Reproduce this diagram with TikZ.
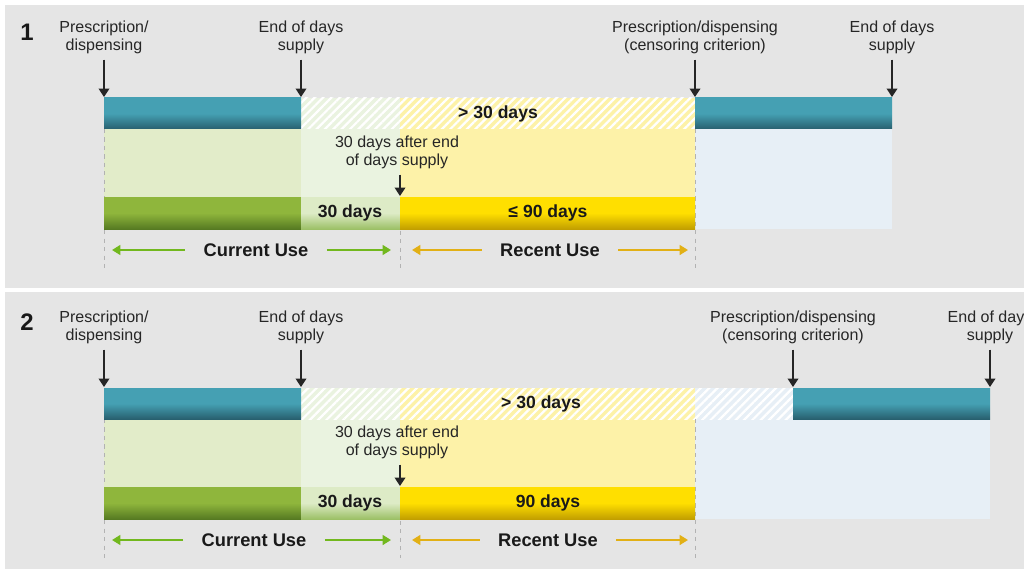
\documentclass[tikz,border=0pt]{standalone}
\usepackage{fontspec}
\setmainfont{Liberation Sans}
\usepackage{xcolor}
\usepackage{tikz}
\usetikzlibrary{arrows.meta,patterns.meta}

\definecolor{panelgray}{HTML}{E5E5E5}
\definecolor{tealL}{HTML}{45A0B3}
\definecolor{tealD}{HTML}{28606F}
\definecolor{grnL}{HTML}{8FB63C}
\definecolor{grnD}{HTML}{567A22}
\definecolor{grnpale}{HTML}{E2ECC9}
\definecolor{grnwash}{HTML}{EAF3E0}
\definecolor{grnT}{HTML}{DDEBC6}
\definecolor{grnB}{HTML}{9CC066}
\definecolor{yelL}{HTML}{FFDF00}
\definecolor{yelD}{HTML}{C29F00}
\definecolor{yelpale}{HTML}{FDF2A8}
\definecolor{bluepale}{HTML}{E7EFF6}
\definecolor{usegreen}{HTML}{72B81E}
\definecolor{useamber}{HTML}{E2B015}

\begin{document}
\begin{tikzpicture}[x=0.025cm, y=-0.025cm,
  lbl/.style={font=\fontsize{11.4}{13}\selectfont, text=black!85, align=center, inner sep=2pt},
  days/.style={font=\bfseries\fontsize{12.5}{15}\selectfont, text=black!90},
  usetxt/.style={font=\bfseries\fontsize{13}{15}\selectfont, text=black!90, inner xsep=13pt},
  num/.style={font=\bfseries\fontsize{17}{20}\selectfont, text=black!90},
  arr/.style={-{Triangle[width=7.5pt,length=6pt]}, line width=1.3pt, black!85, shorten <=2pt},
  garr/.style={-{Triangle[width=7pt,length=6pt]}, line width=1.6pt, usegreen},
  aarr/.style={-{Triangle[width=7pt,length=6pt]}, line width=1.6pt, useamber},
  vline/.style={black!30, dashed, line width=0.6pt},
  hatch/.style={pattern={Lines[angle=45,distance=4.2pt,line width=1.6pt]}, pattern color=white},
  tealbar/.style={top color=tealL, bottom color=tealD, middle color=tealL},
  grnbar/.style={top color=grnL, bottom color=grnD, middle color=grnL},
  lgrnbar/.style={top color=grnT, bottom color=grnB, middle color=grnT},
  yelbar/.style={top color=yelL, bottom color=yelD, middle color=yelL}]
\useasboundingbox (0,0) rectangle (1024,571);
\fill[white] (0,0) rectangle (1024,571);
\fill[panelgray] (5,5) rectangle (1024,288);
\fill[panelgray] (5,292) rectangle (1024,569);

% case 1: new prescription within the recent-use window
\begin{scope}
  \fill[grnpale] (104,129) rectangle (301,197);
  \fill[grnwash] (301,98) rectangle (400,197);
  \fill[yelpale] (400,98) rectangle (695,197);
  \fill[bluepale] (695,129) rectangle (892,229);
  \fill[hatch] (301,98) rectangle (695,129);
  \draw[vline] (104,129) -- (104,268);
  \draw[vline] (400,197) -- (400,268);
  \draw[vline] (695,129) -- (695,268);
  \shade[tealbar] (104,98) rectangle (301,129);
  \shade[tealbar] (695,98) rectangle (892,129);
  \shade[grnbar] (104,197) rectangle (301,229);
  \shade[lgrnbar] (301,197) rectangle (400,229);
  \shade[yelbar] (400,197) rectangle (695,229);
  \node[num] (n1) at (27,32) {1};
  \node[lbl] (rx) at (104,37) {Prescription/\\dispensing};
  \node[lbl] (eds) at (301,37) {End of days\\supply};
  \node[lbl] (rxc) at (695,37) {Prescription/dispensing\\(censoring criterion)};
  \node[lbl] (edsc) at (892,37) {End of days\\supply};
  \coordinate (rxt) at (104,97);
  \coordinate (edst) at (301,97);
  \coordinate (rxct) at (695,97);
  \coordinate (edsct) at (892,97);
  \draw[arr] (rx) -- (rxt);
  \draw[arr] (eds) -- (edst);
  \draw[arr] (rxc) -- (rxct);
  \draw[arr] (edsc) -- (edsct);
  \node[days] (gt) at (498,114) {> 30 days};
  \node[lbl] (aft) at (397,152) {30 days after end\\of days supply};
  \coordinate (aftt) at (400,196);
  \draw[arr] (aft.south -| aftt) -- (aftt);
  \node[days] (d30) at (350,213) {30 days};
  \node[days] (d90) at (548,213) {≤ 90 days};
  \node[usetxt] (cur) at (256,250) {Current Use};
  \coordinate (curl) at (112,250);
  \coordinate (curr) at (391,250);
  \draw[garr] (cur) -- (curl);
  \draw[garr] (cur) -- (curr);
  \node[usetxt] (rec) at (550,250) {Recent Use};
  \coordinate (recl) at (412,250);
  \coordinate (recr) at (688,250);
  \draw[aarr] (rec) -- (recl);
  \draw[aarr] (rec) -- (recr);
\end{scope}

% case 2: new prescription after the recent-use window
\begin{scope}[shift={(0,290)}]
  \fill[grnpale] (104,129) rectangle (301,197);
  \fill[grnwash] (301,98) rectangle (400,197);
  \fill[yelpale] (400,98) rectangle (695,197);
  \fill[bluepale] (695,98) rectangle (990,229);
  \fill[hatch] (301,98) rectangle (793,129);
  \draw[vline] (104,129) -- (104,268);
  \draw[vline] (400,197) -- (400,268);
  \draw[vline] (695,129) -- (695,268);
  \shade[tealbar] (104,98) rectangle (301,129);
  \shade[tealbar] (793,98) rectangle (990,129);
  \shade[grnbar] (104,197) rectangle (301,229);
  \shade[lgrnbar] (301,197) rectangle (400,229);
  \shade[yelbar] (400,197) rectangle (695,229);
  \node[num] (n2) at (27,32) {2};
  \node[lbl] (rx2) at (104,37) {Prescription/\\dispensing};
  \node[lbl] (eds2) at (301,37) {End of days\\supply};
  \node[lbl] (rxc2) at (793,37) {Prescription/dispensing\\(censoring criterion)};
  \node[lbl] (edsc2) at (990,37) {End of days\\supply};
  \coordinate (rxt2) at (104,97);
  \coordinate (edst2) at (301,97);
  \coordinate (rxct2) at (793,97);
  \coordinate (edsct2) at (990,97);
  \draw[arr] (rx2) -- (rxt2);
  \draw[arr] (eds2) -- (edst2);
  \draw[arr] (rxc2) -- (rxct2);
  \draw[arr] (edsc2) -- (edsct2);
  \node[days] (gt2) at (541,114) {> 30 days};
  \node[lbl] (aft2) at (397,152) {30 days after end\\of days supply};
  \coordinate (aftt2) at (400,196);
  \draw[arr] (aft2.south -| aftt2) -- (aftt2);
  \node[days] (d302) at (350,213) {30 days};
  \node[days] (d902) at (548,213) {90 days};
  \node[usetxt] (cur2) at (254,250) {Current Use};
  \coordinate (curl2) at (112,250);
  \coordinate (curr2) at (391,250);
  \draw[garr] (cur2) -- (curl2);
  \draw[garr] (cur2) -- (curr2);
  \node[usetxt] (rec2) at (548,250) {Recent Use};
  \coordinate (recl2) at (412,250);
  \coordinate (recr2) at (688,250);
  \draw[aarr] (rec2) -- (recl2);
  \draw[aarr] (rec2) -- (recr2);
\end{scope}
\end{tikzpicture}
\end{document}
